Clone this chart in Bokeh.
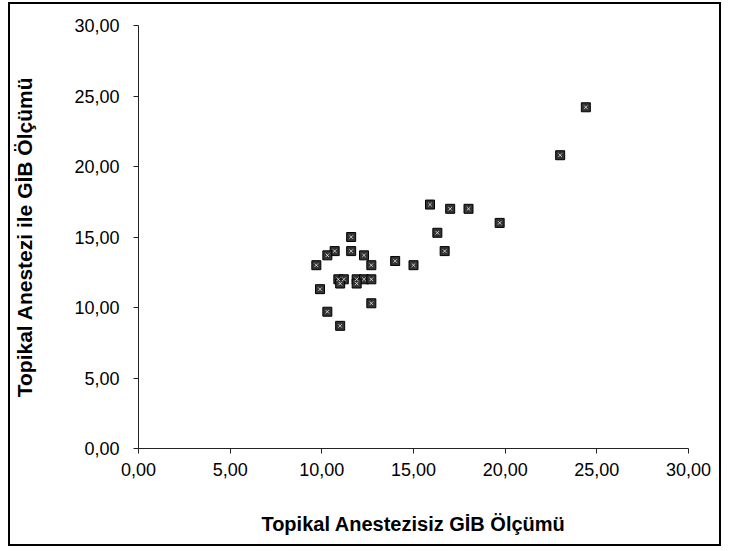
from bokeh.plotting import figure
from bokeh.models import Range1d, FixedTicker
from bokeh.embed import file_html
from bokeh.resources import INLINE

# Data
x_vals = [24.4, 23.0, 15.9, 17.0, 18.0, 19.7, 16.3, 16.7, 14.0, 15.0,
          11.6, 11.6, 10.7, 10.3, 12.3, 9.7, 12.7, 10.9, 11.2, 11.9,
          12.3, 12.7, 11.0, 11.9, 9.9, 12.7, 10.3, 11.0]
y_vals = [24.2, 20.8, 17.3, 17.0, 17.0, 16.0, 15.3, 14.0, 13.3, 13.0,
          15.0, 14.0, 14.0, 13.7, 13.7, 13.0, 13.0, 12.0, 12.0, 12.0,
          12.0, 12.0, 11.7, 11.7, 11.3, 10.3, 9.7, 8.7]
tick_values = [0, 5, 10, 15, 20, 25, 30]
tick_labels = ["0,00", "5,00", "10,00", "15,00", "20,00", "25,00", "30,00"]
x_title = "Topikal Anestezisiz GİB Ölçümü"
y_title = "Topikal Anestezi ile GİB Ölçümü"

FONT = "Liberation Sans"

p = figure(width=713, height=544, output_backend="svg", toolbar_location=None,
           x_range=Range1d(0, 30), y_range=Range1d(0, 30),
           min_border_left=123, min_border_right=35, min_border_top=21, min_border_bottom=100)
p.styles = {"border": "2px solid black", "margin-left": "8px", "margin-top": "2px"}
p.outline_line_color = None
p.xgrid.visible = False
p.ygrid.visible = False

p.square(x_vals, y_vals, size=9, fill_color="#333333", line_color="#000000", line_width=1)
p.scatter(x_vals, y_vals, marker="x", size=5, line_color="white", line_width=1, line_alpha=0.7)

overrides = {v: l for v, l in zip(tick_values, tick_labels)}
for ax in (p.xaxis[0], p.yaxis[0]):
    ax.ticker = FixedTicker(ticks=tick_values)
    ax.major_label_overrides = overrides
    ax.minor_tick_line_color = None
    ax.major_tick_out = 5
    ax.major_tick_in = 0
    ax.axis_line_color = "#222222"
    ax.major_tick_line_color = "#222222"
    ax.major_label_text_font = FONT
    ax.major_label_text_font_size = "18px"
    ax.major_label_text_color = "black"
    ax.axis_label_text_font = FONT
    ax.axis_label_text_font_size = "20px"
    ax.axis_label_text_font_style = "bold"
    ax.axis_label_text_color = "black"

p.yaxis.axis_label_text_font_size = "21px"
p.xaxis.axis_label = x_title
p.yaxis.axis_label = y_title
p.xaxis.major_label_standoff = 9
p.yaxis.major_label_standoff = 14
p.xaxis.axis_label_standoff = 34
p.yaxis.axis_label_standoff = 35

open("out.html", "w").write(file_html(p, INLINE))
